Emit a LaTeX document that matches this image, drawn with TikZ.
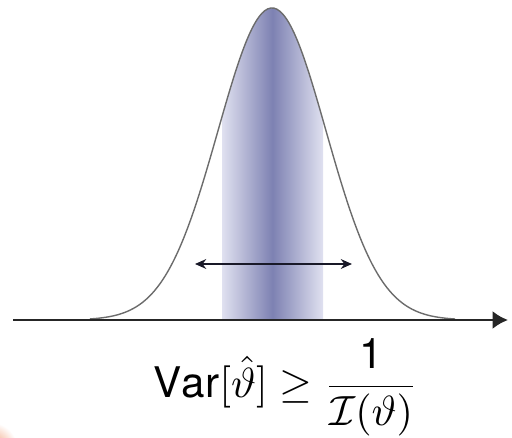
\documentclass[tikz,border=0pt]{standalone}
\usepackage{amsmath}
\usepackage{fontspec}
\setmainfont{TeX Gyre Heros}
\usetikzlibrary{arrows.meta}
\definecolor{cBandEdge}{RGB}{224,225,240}
\definecolor{cBandMid}{RGB}{125,129,178}
\definecolor{cArrow}{RGB}{25,25,40}
\definecolor{cOrange}{RGB}{238,140,95}
\colorlet{cCurve}{gray!85!black}
\pgfdeclarehorizontalshading{bandshade}{100bp}{color(0bp)=(cBandEdge); color(25bp)=(cBandEdge);
  color(50bp)=(cBandMid); color(75bp)=(cBandEdge); color(100bp)=(cBandEdge)}
\tikzset{declare function={gauss(\t)=320-312*exp(-0.5*((\t-272)/54)^2);}}

\begin{document}
\begin{tikzpicture}[x=0.025cm, y=-0.025cm]
  \useasboundingbox (0,0) rectangle (512,438);
  % Canto laranja
  \begin{scope}
    \clip (0,0) rectangle (512,438);
    \shade[inner color=cOrange, outer color=white] (-10,450) circle (28);
  \end{scope}
  % Faixa sombreada sob a curva
  \begin{scope}
    \clip plot[domain=90:455, samples=120, smooth] (\x, {gauss(\x)}) -- cycle;
    \shade[shading=bandshade] (222,0) rectangle (323,320);
  \end{scope}
  % Curva gaussiana
  \draw[cCurve, line width=1pt] plot[domain=90:455, samples=120, smooth] (\x, {gauss(\x)});
  % Eixo
  \coordinate (ax0) at (13,320);
  \coordinate (ax1) at (508,320);
  \draw[-{Latex[length=11pt,width=13pt]}, line width=2pt, black!85] (ax0) -- (ax1);
  % Largura
  \coordinate (wl) at (195,264);
  \coordinate (wr) at (352,264);
  \draw[{Stealth[length=8pt,width=7pt]}-{Stealth[length=8pt,width=7pt]}, line width=1.2pt, color=cArrow] (wl) -- (wr);
  % Cota de Cramer-Rao
  \node[anchor=base west, inner sep=0pt, scale=3] (crlb) at (153,397)
    {$\mathrm{Var}[\hat{\vartheta}] \geq \dfrac{\text{1}}{\mathcal{I}(\vartheta)}$};
\end{tikzpicture}
\end{document}
